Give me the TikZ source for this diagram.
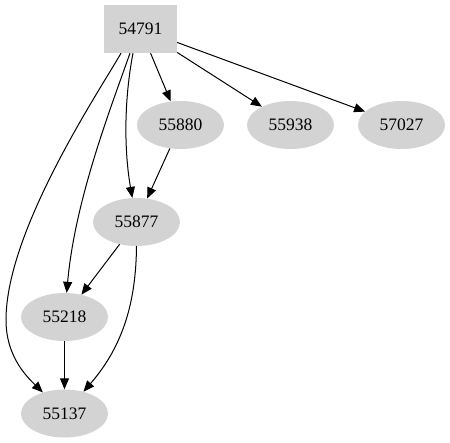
\documentclass[tikz,border=0pt]{standalone}
\usepackage{fontspec}
\setmainfont{Liberation Serif}
\usetikzlibrary{arrows.meta,shapes.geometric}
\definecolor{nodegray}{HTML}{D3D3D3}
\begin{document}
\begin{tikzpicture}[x=1pt,y=-1pt,
  box/.style={rectangle,fill=nodegray,minimum width=73pt,minimum height=48pt,inner sep=0pt,font=\fontsize{17.5}{20}\selectfont},
  ell/.style={ellipse,fill=nodegray,minimum width=87pt,minimum height=48pt,inner sep=0pt,font=\fontsize{17.5}{20}\selectfont},
  edge/.style={draw=black,line width=1pt,-{Triangle[length=11pt,width=9pt]}}]
\useasboundingbox (0,0) rectangle (450,443);
\node[box] (n54791) at (140.5,29) {54791};
\node[ell] (n55880) at (180.5,125) {55880};
\node[ell] (n55938) at (290.5,125) {55938};
\node[ell] (n57027) at (401.5,125) {57027};
\node[ell] (n55877) at (136.5,222) {55877};
\node[ell] (n55218) at (64.5,317) {55218};
\node[ell] (n55137) at (64.5,413.5) {55137};
\coordinate (k1) at (6,320);
\draw[edge] (n54791) -- (n55880);
\draw[edge] (n54791) -- (n55938);
\draw[edge] (n54791) -- (n57027);
\draw[edge] (n55880) -- (n55877);
\draw[edge] (n55877) -- (n55218);
\draw[edge] (n55218) -- (n55137);
\draw[edge] ([xshift=-7.5pt]n54791.south) .. controls (124,100) and (124,150) .. (n55877);
\draw[edge] ([xshift=-10.5pt]n54791.south) .. controls (110,110) and (75,200) .. (n55218);
\draw[edge] ([xshift=-19.5pt]n54791.south) .. controls (100,90) and (6,230) .. (k1) .. controls (6,355) and (25,375) .. (n55137);
\draw[edge] (n55877.south) .. controls (136,300) and (124,345) .. (n55137);
\end{tikzpicture}
\end{document}
